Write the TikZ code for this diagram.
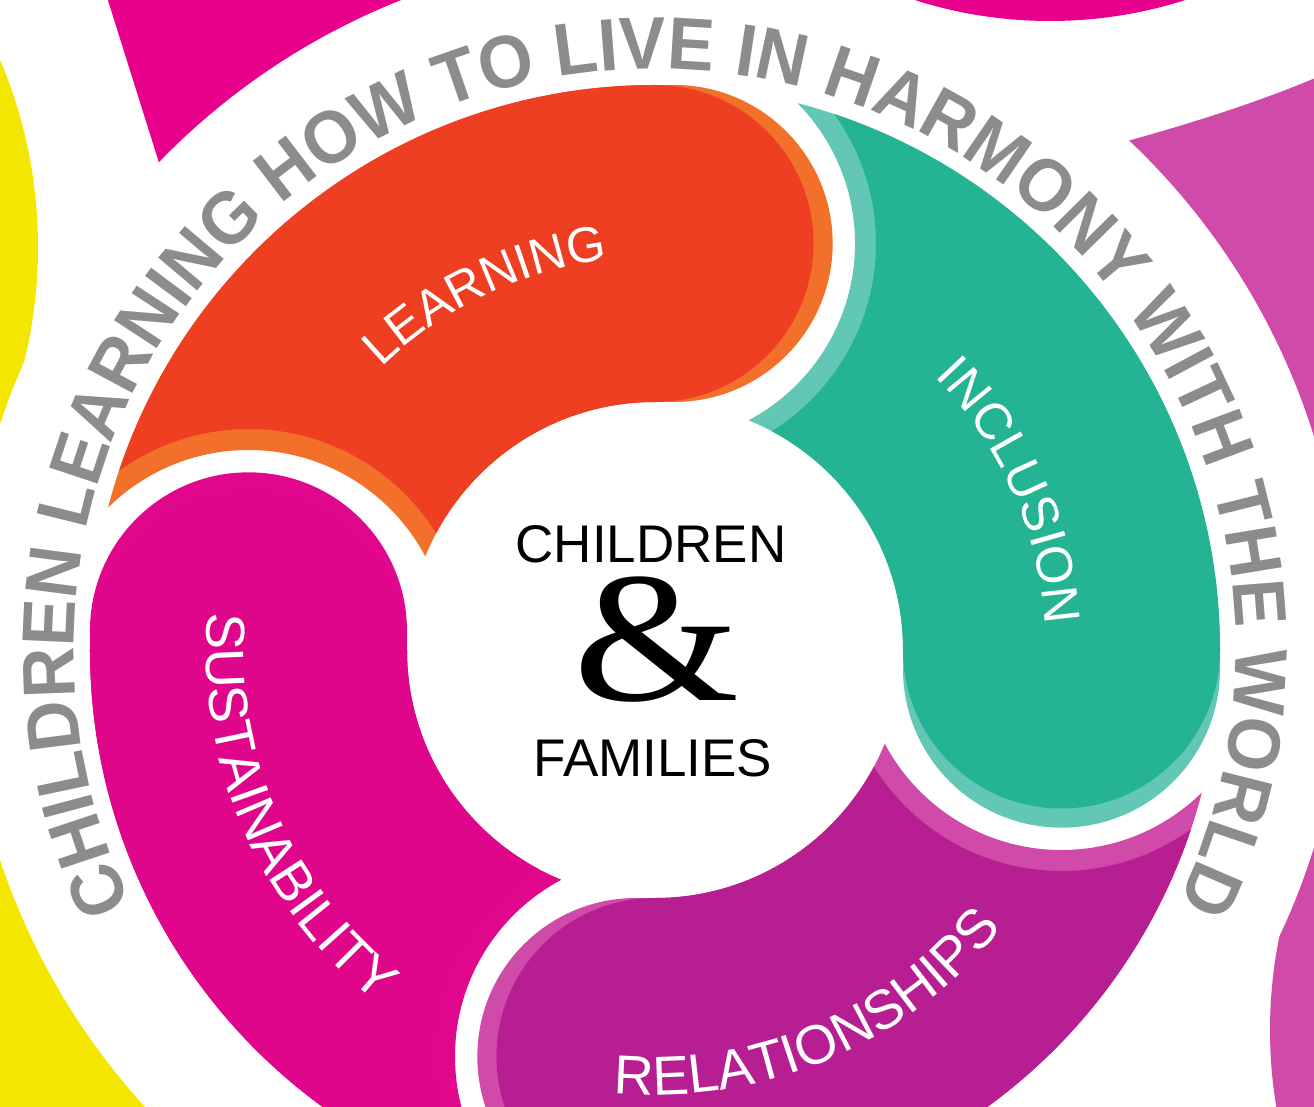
\documentclass[tikz,border=0pt]{standalone}
\usepackage{fontspec}
\usepackage{graphicx}
\usetikzlibrary{decorations.text}

\newfontfamily\ringfont{Liberation Sans}[FakeStretch=0.95]
\newfontfamily\wheelfont{Liberation Sans}
\newfontfamily\ampfont{Liberation Serif}

\definecolor{learnred}{HTML}{EE3F23}
\definecolor{learnorange}{HTML}{F2702A}
\definecolor{incteal}{HTML}{25B493}
\definecolor{inclight}{HTML}{62C7B4}
\definecolor{relpurple}{HTML}{B61E92}
\definecolor{rellight}{HTML}{CF4AA9}
\definecolor{susmagenta}{HTML}{E0068C}
\definecolor{suslight}{HTML}{E1078D}
\definecolor{ringgray}{HTML}{8C8C8C}
\definecolor{sunyellow}{HTML}{F5E600}
\definecolor{topmagenta}{HTML}{E6008C}
\definecolor{sidepink}{HTML}{CF4AA9}

\tikzset{
    % quarter of the ring, from the head angle #1 round to #1+90
    wedge/.style={insert path={(#1:248) arc[start angle=#1, end angle=#1+90, radius=248]
        -- ({#1+90}:565) arc[start angle=#1+90, end angle=#1, radius=565] -- cycle}},
    ringtext/.style={decorate, decoration={text along path, text align=center, text color=ringgray,
        text={|\ringfont\bfseries\fontsize{74}{74}\selectfont|#1}}},
    seglabel/.style 2 args={decorate, decoration={text along path, text align=center, text color=white,
        text={|\wheelfont\fontsize{#1}{#1}\selectfont|#2}}}
}

\begin{document}
\begin{tikzpicture}[x=1pt,y=1pt]
    \useasboundingbox (-655,-456) rectangle (659,650);

    % neighbouring shapes round the edge
    \fill[sunyellow] (-1096,403) circle[radius=479];
    \fill[sunyellow] (-665,-50) rectangle (-255,-470);
    \fill[topmagenta] (-549,656) -- (-489,465) -- (-155,465) -- (-155,656) -- cycle;
    \fill[topmagenta] (395,1073) circle[radius=444];
    \fill[sidepink] (385,486) .. controls (505,516) and (595,544) .. (665,574) -- (665,50) -- (385,50) -- cycle;
    \fill[sidepink] (1082,-380) circle[radius=467];
    \fill[white] (0,8) circle[radius=690];

    % the four pieces of the wheel
    \foreach \a/\dk/\lt in {90/learnred/learnorange, 0/incteal/inclight, -90/relpurple/rellight, 180/susmagenta/suslight}{
        % lighter copy, tail cut shorter and head pushed on a little
        \begin{scope}
            \clip[wedge=\a];
            \fill[\lt, even odd rule] (-700,-700) rectangle (700,700) ({\a+90}:406.5) circle[radius=200];
        \end{scope}
        \fill[\lt] ({\a-2.7}:407) circle[radius=158.5];
        % main colour
        \begin{scope}
            \clip[wedge=\a];
            \fill[\dk, even odd rule] (-700,-700) rectangle (700,700) ({\a+90}:406.5) circle[radius=221];
        \end{scope}
        \fill[\dk] (\a:406.5) circle[radius=158.5];
    }

    % labels on the wheel
    \path[seglabel={50}{LEARNING}] (150:393) arc[start angle=150, end angle=81, radius=393];
    \path[seglabel={51}{INCLUSION}] (59:391) arc[start angle=59, end angle=-11, radius=391];
    \path[seglabel={55}{SUSTAINABILITY}] (158:449) arc[start angle=158, end angle=249, radius=449];
    \path[seglabel={55}{RELATIONSHIPS}] (247:445) arc[start angle=247, end angle=339, radius=445];

    % motto round the outside
    \path[ringtext={CHILDREN LEARNING HOW TO LIVE IN HARMONY WITH THE WORLD}]
        (215:581) arc[start angle=215, end angle=-35, radius=581];

    % middle
    \node[font=\wheelfont\fontsize{53}{53}\selectfont, anchor=base] (kids) at (-4,88) {CHILDREN};
    \node[inner sep=0pt] (amp) at (1.5,10) {\scalebox{1.15}[1]{\ampfont\fontsize{186}{186}\selectfont\&}};
    \node[font=\wheelfont\fontsize{53}{53}\selectfont, anchor=base] (fams) at (-2,-126) {FAMILIES};
\end{tikzpicture}
\end{document}
